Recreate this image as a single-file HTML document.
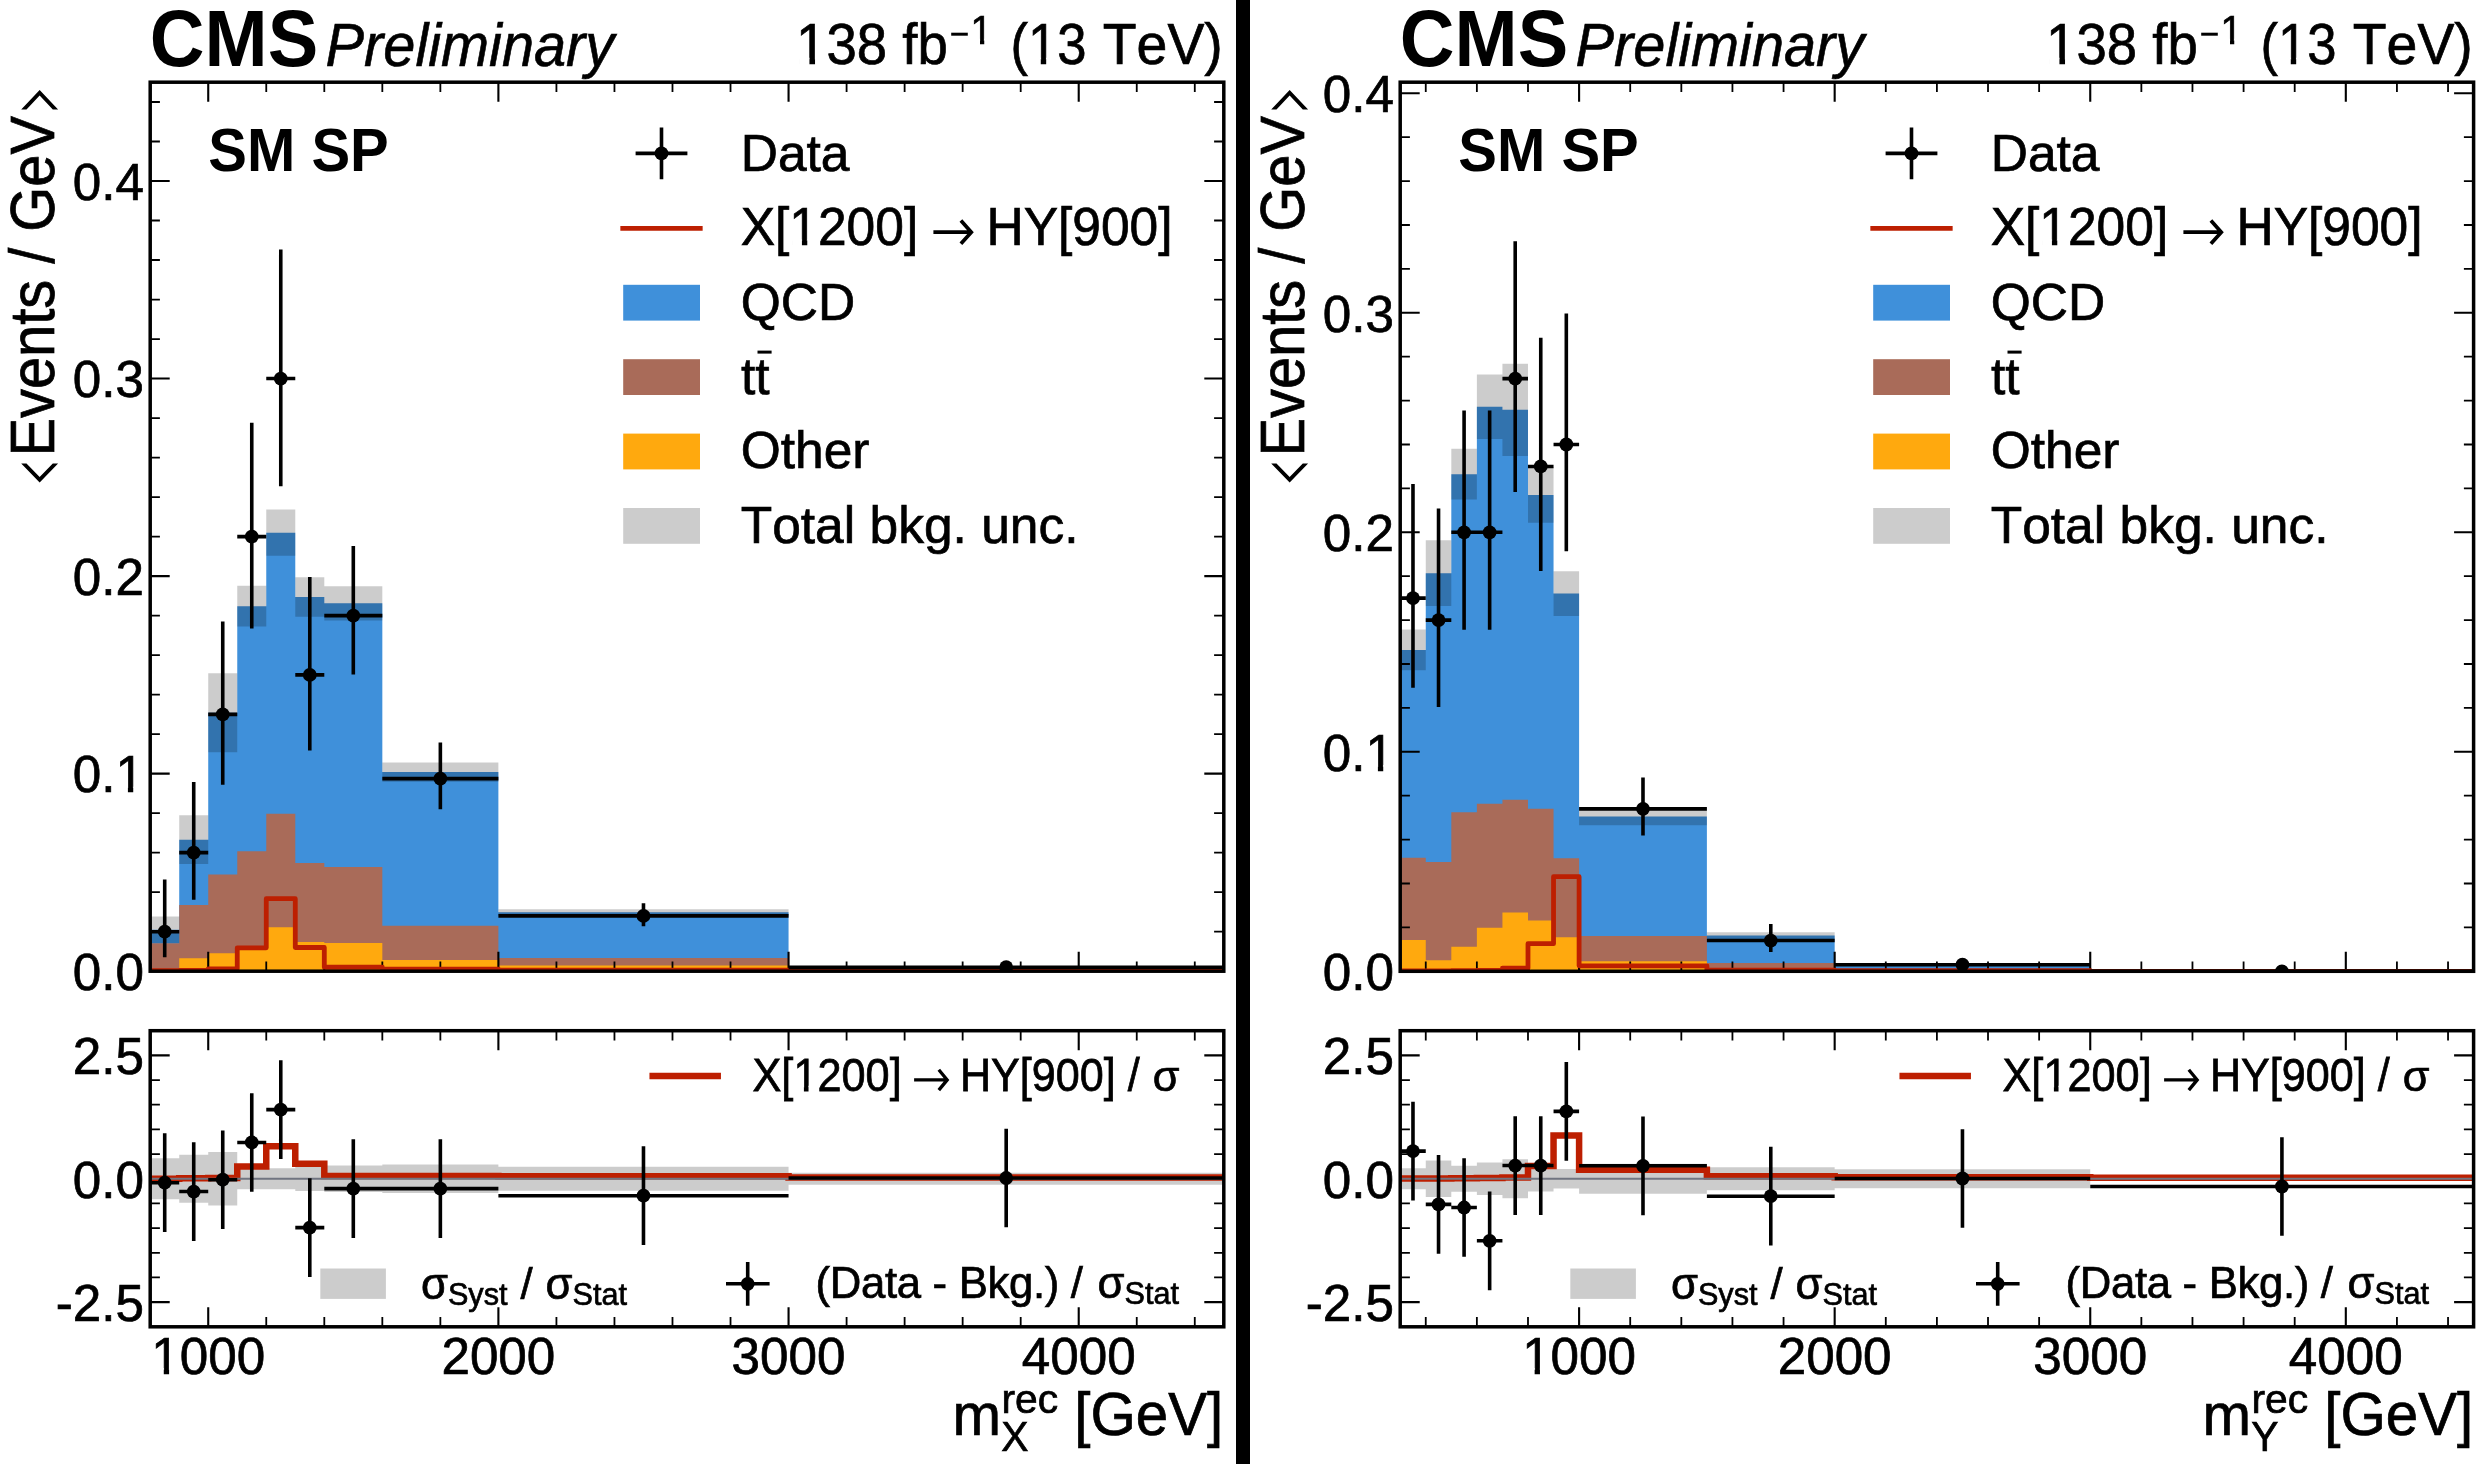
<!DOCTYPE html>
<html><head><meta charset="utf-8"><title>plot</title>
<style>html,body{margin:0;padding:0;background:#fff;overflow:hidden}svg{display:block;will-change:transform}text{font-family:"Liberation Sans",sans-serif;fill:#000;stroke:#000;stroke-width:0.7px;font-kerning:none}.b{stroke-width:0}</style>
</head><body>
<svg width="2486" height="1464" viewBox="0 0 2486 1464">
<rect width="2486" height="1464" fill="#fff"/>
<clipPath id="cma"><rect x="150.2" y="82.2" width="1073.6" height="889"/></clipPath>
<clipPath id="cra"><rect x="150.2" y="1030.7" width="1073.6" height="296.1"/></clipPath>
<g clip-path="url(#cma)">
<path d="M150.2 971.2V929.71H179.22V839.63H208.23V712.8H237.25V606.13H266.26V532.64H295.28V597.04H324.3V603.36H382.33V772.07H498.39V912.33H788.56V967.25H1223.8V971.2Z" fill="#3f90da"/>
<path d="M150.2 971.2V943.35H179.22V905.02H208.23V874.4H237.25V851.29H266.26V813.75H295.28V862.94H324.3V866.89H382.33V925.76H498.39V957.96H788.56V970.41H1223.8V971.2Z" fill="#a96b59"/>
<path d="M150.2 971.2V970.61H179.22V958.36H208.23V953.22H237.25V948.48H266.26V927.15H295.28V941.96H324.3V943.01H382.33V959.94H498.39V965.47H788.56V970.8H1223.8V971.2Z" fill="#ffa90e"/>
<path d="M150.2 916.48H179.22V815.33H208.23V673.29H237.25V585.78H266.26V509.43H295.28V577.29H324.3V586.18H382.33V762.39H498.39V909.17H788.56V966.66H1223.8V967.84H788.56V915.49H498.39V781.75H382.33V620.55H324.3V616.8H295.28V555.85H266.26V626.48H237.25V752.31H208.23V863.93H179.22V942.95H150.2Z" fill="#000" fill-opacity="0.2"/>
</g>
<g clip-path="url(#cra)">
<path d="M150.2 1158.27H179.22V1154.82H208.23V1152.1H237.25V1168.14H266.26V1168.14H295.28V1166.41H324.3V1165.52H382.33V1164.44H498.39V1166.66H788.56V1172.63H1223.8V1184.87H788.56V1190.84H498.39V1193.06H382.33V1191.98H324.3V1191.09H295.28V1189.36H266.26V1189.36H237.25V1205.4H208.23V1202.68H179.22V1199.23H150.2Z" fill="#000" fill-opacity="0.2"/>
</g>
<path d="M208.23 82.2V101.7M208.23 971.2V951.7M208.23 1030.7V1050.2M208.23 1326.8V1307.3M498.39 82.2V101.7M498.39 971.2V951.7M498.39 1030.7V1050.2M498.39 1326.8V1307.3M788.56 82.2V101.7M788.56 971.2V951.7M788.56 1030.7V1050.2M788.56 1326.8V1307.3M1078.72 82.2V101.7M1078.72 971.2V951.7M1078.72 1030.7V1050.2M1078.72 1326.8V1307.3M150.2 971.2H169.7M1223.8 971.2H1204.3M150.2 773.65H169.7M1223.8 773.65H1204.3M150.2 576.1H169.7M1223.8 576.1H1204.3M150.2 378.55H169.7M1223.8 378.55H1204.3M150.2 181H169.7M1223.8 181H1204.3M150.2 1302.12H169.7M1223.8 1302.12H1204.3M150.2 1178.75H169.7M1223.8 1178.75H1204.3M150.2 1055.38H169.7M1223.8 1055.38H1204.3" stroke="#000" stroke-width="2.1" fill="none"/><path d="M150.2 82.2V91.9M150.2 971.2V961.5M150.2 1030.7V1040.4M150.2 1326.8V1317.1M266.26 82.2V91.9M266.26 971.2V961.5M266.26 1030.7V1040.4M266.26 1326.8V1317.1M324.3 82.2V91.9M324.3 971.2V961.5M324.3 1030.7V1040.4M324.3 1326.8V1317.1M382.33 82.2V91.9M382.33 971.2V961.5M382.33 1030.7V1040.4M382.33 1326.8V1317.1M440.36 82.2V91.9M440.36 971.2V961.5M440.36 1030.7V1040.4M440.36 1326.8V1317.1M556.43 82.2V91.9M556.43 971.2V961.5M556.43 1030.7V1040.4M556.43 1326.8V1317.1M614.46 82.2V91.9M614.46 971.2V961.5M614.46 1030.7V1040.4M614.46 1326.8V1317.1M672.49 82.2V91.9M672.49 971.2V961.5M672.49 1030.7V1040.4M672.49 1326.8V1317.1M730.52 82.2V91.9M730.52 971.2V961.5M730.52 1030.7V1040.4M730.52 1326.8V1317.1M846.59 82.2V91.9M846.59 971.2V961.5M846.59 1030.7V1040.4M846.59 1326.8V1317.1M904.62 82.2V91.9M904.62 971.2V961.5M904.62 1030.7V1040.4M904.62 1326.8V1317.1M962.65 82.2V91.9M962.65 971.2V961.5M962.65 1030.7V1040.4M962.65 1326.8V1317.1M1020.69 82.2V91.9M1020.69 971.2V961.5M1020.69 1030.7V1040.4M1020.69 1326.8V1317.1M1136.75 82.2V91.9M1136.75 971.2V961.5M1136.75 1030.7V1040.4M1136.75 1326.8V1317.1M1194.78 82.2V91.9M1194.78 971.2V961.5M1194.78 1030.7V1040.4M1194.78 1326.8V1317.1M150.2 931.69H159.9M1223.8 931.69H1214.1M150.2 892.18H159.9M1223.8 892.18H1214.1M150.2 852.67H159.9M1223.8 852.67H1214.1M150.2 813.16H159.9M1223.8 813.16H1214.1M150.2 734.14H159.9M1223.8 734.14H1214.1M150.2 694.63H159.9M1223.8 694.63H1214.1M150.2 655.12H159.9M1223.8 655.12H1214.1M150.2 615.61H159.9M1223.8 615.61H1214.1M150.2 536.59H159.9M1223.8 536.59H1214.1M150.2 497.08H159.9M1223.8 497.08H1214.1M150.2 457.57H159.9M1223.8 457.57H1214.1M150.2 418.06H159.9M1223.8 418.06H1214.1M150.2 339.04H159.9M1223.8 339.04H1214.1M150.2 299.53H159.9M1223.8 299.53H1214.1M150.2 260.02H159.9M1223.8 260.02H1214.1M150.2 220.51H159.9M1223.8 220.51H1214.1M150.2 141.49H159.9M1223.8 141.49H1214.1M150.2 101.98H159.9M1223.8 101.98H1214.1M150.2 1326.8H159.9M1223.8 1326.8H1214.1M150.2 1277.45H159.9M1223.8 1277.45H1214.1M150.2 1252.78H159.9M1223.8 1252.78H1214.1M150.2 1228.1H159.9M1223.8 1228.1H1214.1M150.2 1203.42H159.9M1223.8 1203.42H1214.1M150.2 1154.08H159.9M1223.8 1154.08H1214.1M150.2 1129.4H159.9M1223.8 1129.4H1214.1M150.2 1104.72H159.9M1223.8 1104.72H1214.1M150.2 1080.05H159.9M1223.8 1080.05H1214.1M150.2 1030.7H159.9M1223.8 1030.7H1214.1" stroke="#000" stroke-width="1.8" fill="none"/>
<g clip-path="url(#cma)">
<path d="M150.2 970.61H179.22V970.41H208.23V968.83H237.25V947.81H266.26V898.7H295.28V947.49H324.3V967.25H382.33V969.03H498.39V970.21H788.56V970.8H1223.8" fill="none" stroke="#bd1f01" stroke-width="4.8" stroke-linejoin="round" stroke-linecap="square"/>
<path d="M150.2 931.69H179.22M164.71 879.58V957.21M179.22 852.67H208.23M193.72 781.88V899.69M208.23 714.38H237.25M222.74 621.58V784.69M237.25 536.59H266.26M251.76 422.77V628.54M266.26 378.55H295.28M280.77 249.39V486.15M295.28 674.88H324.3M309.79 576.92V750.52M324.3 615.61H382.33M353.31 545.92V674.6M382.33 778.59H498.39M440.36 742.54V809.3M498.39 915.89H788.56M643.48 903.33V926.28M788.56 967.25H1223.8M1006.18 963.41V969.4" stroke="#000" stroke-width="3.6" fill="none"/>
<circle cx="164.71" cy="931.69" r="6.9"/><circle cx="193.72" cy="852.67" r="6.9"/><circle cx="222.74" cy="714.38" r="6.9"/><circle cx="251.76" cy="536.59" r="6.9"/><circle cx="280.77" cy="378.55" r="6.9"/><circle cx="309.79" cy="674.88" r="6.9"/><circle cx="353.31" cy="615.61" r="6.9"/><circle cx="440.36" cy="778.59" r="6.9"/><circle cx="643.48" cy="915.89" r="6.9"/><circle cx="1006.18" cy="967.25" r="6.9"/>
</g>
<g clip-path="url(#cra)">
<path d="M150.2 1178.65H179.22V1178.26H208.23V1177.96H237.25V1166.51H266.26V1146.23H295.28V1163.8H324.3V1175.89H382.33V1175.89H498.39V1176.28H788.56V1177.52H1223.8" fill="none" stroke="#bd1f01" stroke-width="6.5" stroke-linejoin="miter" stroke-linecap="square"/>
<path d="M150.2 1178.75H1223.8" stroke="#717581" stroke-width="2.2"/>
<path d="M150.2 1182.7H179.22M164.71 1133.35V1232.05M179.22 1191.53H208.23M193.72 1142.18V1240.88M208.23 1179.74H237.25M222.74 1130.39V1229.09M237.25 1142.48H266.26M251.76 1093.13V1191.83M266.26 1109.66H295.28M280.77 1060.31V1159.01M295.28 1227.61H324.3M309.79 1178.26V1276.96M324.3 1188.62H382.33M353.31 1139.27V1237.97M382.33 1188.62H498.39M440.36 1139.27V1237.97M498.39 1195.68H788.56M643.48 1146.33V1245.03M788.56 1178.01H1223.8M1006.18 1128.66V1227.36" stroke="#000" stroke-width="3.6" fill="none"/>
<circle cx="164.71" cy="1182.7" r="6.9"/><circle cx="193.72" cy="1191.53" r="6.9"/><circle cx="222.74" cy="1179.74" r="6.9"/><circle cx="251.76" cy="1142.48" r="6.9"/><circle cx="280.77" cy="1109.66" r="6.9"/><circle cx="309.79" cy="1227.61" r="6.9"/><circle cx="353.31" cy="1188.62" r="6.9"/><circle cx="440.36" cy="1188.62" r="6.9"/><circle cx="643.48" cy="1195.68" r="6.9"/><circle cx="1006.18" cy="1178.01" r="6.9"/>
</g>
<rect x="150.2" y="82.2" width="1073.6" height="889" fill="none" stroke="#000" stroke-width="3.5"/>
<rect x="150.2" y="1030.7" width="1073.6" height="296.1" fill="none" stroke="#000" stroke-width="3.5"/>
<text x="143.9" y="990" font-size="51.2" text-anchor="end">0.0</text>
<text x="143.9" y="792.45" font-size="51.2" text-anchor="end">0.1</text>
<path d="M118.12 786.83H127.91V793.95H118.12ZM133.23 786.83H142.59V793.95H133.23Z" fill="#fff"/>
<text x="143.9" y="594.9" font-size="51.2" text-anchor="end">0.2</text>
<text x="143.9" y="397.35" font-size="51.2" text-anchor="end">0.3</text>
<text x="143.9" y="199.8" font-size="51.2" text-anchor="end">0.4</text>
<text x="143.9" y="1074.17" font-size="51.2" text-anchor="end">2.5</text>
<text x="143.9" y="1197.55" font-size="51.2" text-anchor="end">0.0</text>
<text x="143.9" y="1320.92" font-size="51.2" text-anchor="end">-2.5</text>
<text x="208.23" y="1373.7" font-size="51.2" text-anchor="middle">1000</text>
<path d="M153.99 1368.08H163.77V1375.2H153.99ZM169.1 1368.08H178.46V1375.2H169.1Z" fill="#fff"/>
<text x="498.39" y="1373.7" font-size="51.2" text-anchor="middle">2000</text>
<text x="788.56" y="1373.7" font-size="51.2" text-anchor="middle">3000</text>
<text x="1078.72" y="1373.7" font-size="51.2" text-anchor="middle">4000</text>
<text transform="translate(149.8,66.4) scale(1,1.045)" font-size="75.8" font-weight="bold" class="b">CMS</text>
<text transform="translate(325.6,66.2) scale(0.99,1.055)" font-size="58.3" font-style="italic" style="stroke-width:0.6px">Preliminary</text>
<g transform="translate(947.8,0) scale(0.985,1) translate(-947.8,0)">
<text transform="translate(947.8,63.8) scale(1,1.025)" font-size="55.4" text-anchor="end">138 fb</text>
<path d="M796.8 57.76H807.32V65.3H796.8ZM813.01 57.76H823.08V65.3H813.01Z" fill="#fff"/>
</g>
<path d="M951.2 34.2H967.8" stroke="#000" stroke-width="3"/>
<text transform="translate(970.6,43.5) scale(1,1.02)" font-size="39" >1</text>
<path d="M972.36 38.73H980.01V45H972.36ZM984.25 38.73H991.57V45H984.25Z" fill="#fff"/>
<g transform="translate(1010.4,0) scale(0.95,1) translate(-1010.4,0)">
<text transform="translate(1010.4,63.8) scale(1,1.025)" font-size="55.4">(13</text>
<path d="M1031.86 57.76H1042.38V65.3H1031.86ZM1048.07 57.76H1058.14V65.3H1048.07Z" fill="#fff"/>
</g>
<text transform="translate(1102.75,63.8) scale(1,1.025)" font-size="55.4">TeV)</text>
<text transform="translate(208.3,171) scale(1,1.066)" font-size="58" font-weight="bold" class="b">SM SP</text>
<g transform="translate(54.3,116) rotate(-90) scale(1,1.08)"><text x="0" y="0" font-size="57.8" text-anchor="end">Events / GeV</text></g>
<polygon points="21.2,109.4 39.65,90 58.1,109.4 52.8,109.4 39.65,95.6 26.5,109.4"/>
<polygon points="21.2,463.4 39.65,482.6 58.1,463.4 52.8,463.4 39.65,477 26.5,463.4"/>
<text transform="translate(952.5,1434.9) scale(1,1.001)" font-size="58.3">m</text>
<text transform="translate(1001.5,1412.6) scale(1,1.001)" font-size="40.8">rec</text>
<text transform="translate(1001.3,1450.6) scale(1,1.055)" font-size="40.8">X</text>
<text transform="translate(1223.2,1434.9) scale(1,1.034)" font-size="58.3" text-anchor="end">[GeV]</text>
<path d="M635.6 153.4H687.4M661.5 127.6V179.2" stroke="#000" stroke-width="3.6"/>
<circle cx="661.5" cy="153.4" r="6.9"/>
<path d="M622.8 228.4H700.2" stroke="#bd1f01" stroke-width="4.9" stroke-linecap="square"/>
<rect x="623.2" y="284.8" width="76.8" height="35.8" fill="#3f90da" fill-opacity="1"/>
<rect x="623.2" y="359.2" width="76.8" height="35.8" fill="#a96b59" fill-opacity="1"/>
<rect x="623.2" y="433.6" width="76.8" height="35.8" fill="#ffa90e" fill-opacity="1"/>
<rect x="623.2" y="508" width="76.8" height="35.8" fill="#000" fill-opacity="0.2"/>
<text x="740.7" y="170.8" font-size="51.5">Data</text>
<text transform="translate(740.7,245.2) scale(1,1.03)" font-size="51.5">X[1200]</text>
<path d="M792.08 239.44H801.92V246.7H792.08ZM807.27 239.44H816.68V246.7H807.27Z" fill="#fff"/>
<path d="M933.4 232.2H970.5M960.9 220.6L971.3 232.2L960.9 243.8" fill="none" stroke="#000" stroke-width="3.7"/>
<text transform="translate(986.5,245.2) scale(1,1.03)" font-size="51.5">HY[900]</text>
<text x="740.7" y="319.6" font-size="51.5">QCD</text>
<text x="741" y="394" font-size="51.5">tt</text>
<path d="M757.5 352.1H771.6" stroke="#000" stroke-width="3"/>
<text x="740.7" y="468.4" font-size="51.5">Other</text>
<text x="740.7" y="542.8" font-size="51.5">Total bkg. unc.</text>
<path d="M652.7 1076.1H717.7" stroke="#bd1f01" stroke-width="6.5" stroke-linecap="square"/>
<text transform="translate(752.5,1091.1) scale(1,1.075)" font-size="43.3">X[1200]</text>
<path d="M795.51 1085.82H803.91V1092.6H795.51ZM808.53 1085.82H816.57V1092.6H808.53Z" fill="#fff"/>
<path d="M914.1 1079.9H946.5M938.8 1069.7L947.2 1079.9L938.8 1090.1" fill="none" stroke="#000" stroke-width="3.3"/>
<text transform="translate(960,1091.1) scale(1,1.075)" font-size="43.1">HY[900] /</text>
<text x="1152.8" y="1091.1" font-size="43.3">σ</text>
<rect x="320.3" y="1268.5" width="65.6" height="30.4" fill="#000" fill-opacity="0.2"/>
<text x="421" y="1298.9" font-size="43.7">σ<tspan font-size="30.6" dy="5.8">Syst</tspan></text>
<text x="520.5" y="1298.9" font-size="43.7">/</text>
<text x="545.6" y="1298.9" font-size="43.7">σ<tspan font-size="30.6" dy="5.8">Stat</tspan></text>
<path d="M726 1283.8H769.6M747.7 1262V1305.7" stroke="#000" stroke-width="3.6"/>
<circle cx="747.7" cy="1283.8" r="6.9"/>
<text x="815.5" y="1298.4" font-size="43.7" textLength="267.5" lengthAdjust="spacing">(Data - Bkg.) /</text>
<text x="1097.6" y="1298.4" font-size="43.7">σ<tspan font-size="30.6" dy="5.8">Stat</tspan></text>
<clipPath id="cmb"><rect x="1400.2" y="82.2" width="1073.4" height="889.1"/></clipPath>
<clipPath id="crb"><rect x="1400.2" y="1030.7" width="1073.4" height="296.1"/></clipPath>
<g clip-path="url(#cmb)">
<path d="M1400.2 971.3V649.95H1425.76V573.13H1451.31V474.13H1476.87V406.75H1502.43V409.82H1527.99V494.98H1553.54V593.54H1579.1V816.55H1706.89V935.61H1834.67V964.71H2090.24V970.86H2473.6V971.3Z" fill="#3f90da"/>
<path d="M1400.2 971.3V857.82H1425.76V861.99H1451.31V812.16H1476.87V803.82H1502.43V799.87H1527.99V808.87H1553.54V858.26H1579.1V935.96H1706.89V962.96H1834.67V969.98H2090.24V971.08H2473.6V971.3Z" fill="#a96b59"/>
<path d="M1400.2 971.3V939.91H1425.76V960.32H1451.31V946.72H1476.87V927.84H1502.43V912.47H1527.99V920.38H1553.54V937.28H1579.1V961.2H1706.89V969.98H1834.67V970.64H2090.24V971.3H2473.6V971.3Z" fill="#ffa90e"/>
<path d="M1400.2 629.54H1425.76V540.2H1451.31V448.67H1476.87V374.48H1502.43V363.72H1527.99V467.11H1553.54V571.15H1579.1V807.77H1706.89V932.32H1834.67V963.4H2090.24V970.64H2473.6V971.08H2090.24V966.03H1834.67V938.9H1706.89V825.33H1579.1V615.93H1553.54V522.86H1527.99V455.91H1502.43V439.01H1476.87V499.59H1451.31V606.05H1425.76V670.37H1400.2Z" fill="#000" fill-opacity="0.2"/>
</g>
<g clip-path="url(#crb)">
<path d="M1400.2 1168.14H1425.76V1160.49H1451.31V1165.67H1476.87V1162.46H1502.43V1159.21H1527.99V1165.92H1553.54V1168.88H1579.1V1163.7H1706.89V1167.25H1834.67V1169.37H2090.24V1178.75H2473.6V1178.75H2090.24V1188.13H1834.67V1190.25H1706.89V1193.8H1579.1V1188.62H1553.54V1191.58H1527.99V1198.29H1502.43V1195.04H1476.87V1191.83H1451.31V1197.01H1425.76V1189.36H1400.2Z" fill="#000" fill-opacity="0.2"/>
</g>
<path d="M1579.1 82.2V101.7M1579.1 971.3V951.8M1579.1 1030.7V1050.2M1579.1 1326.8V1307.3M1834.67 82.2V101.7M1834.67 971.3V951.8M1834.67 1030.7V1050.2M1834.67 1326.8V1307.3M2090.24 82.2V101.7M2090.24 971.3V951.8M2090.24 1030.7V1050.2M2090.24 1326.8V1307.3M2345.81 82.2V101.7M2345.81 971.3V951.8M2345.81 1030.7V1050.2M2345.81 1326.8V1307.3M1400.2 971.3H1419.7M2473.6 971.3H2454.1M1400.2 751.8H1419.7M2473.6 751.8H2454.1M1400.2 532.3H1419.7M2473.6 532.3H2454.1M1400.2 312.8H1419.7M2473.6 312.8H2454.1M1400.2 93.3H1419.7M2473.6 93.3H2454.1M1400.2 1302.12H1419.7M2473.6 1302.12H2454.1M1400.2 1178.75H1419.7M2473.6 1178.75H2454.1M1400.2 1055.38H1419.7M2473.6 1055.38H2454.1" stroke="#000" stroke-width="2.1" fill="none"/><path d="M1425.76 82.2V91.9M1425.76 971.3V961.6M1425.76 1030.7V1040.4M1425.76 1326.8V1317.1M1476.87 82.2V91.9M1476.87 971.3V961.6M1476.87 1030.7V1040.4M1476.87 1326.8V1317.1M1527.99 82.2V91.9M1527.99 971.3V961.6M1527.99 1030.7V1040.4M1527.99 1326.8V1317.1M1630.21 82.2V91.9M1630.21 971.3V961.6M1630.21 1030.7V1040.4M1630.21 1326.8V1317.1M1681.33 82.2V91.9M1681.33 971.3V961.6M1681.33 1030.7V1040.4M1681.33 1326.8V1317.1M1732.44 82.2V91.9M1732.44 971.3V961.6M1732.44 1030.7V1040.4M1732.44 1326.8V1317.1M1783.56 82.2V91.9M1783.56 971.3V961.6M1783.56 1030.7V1040.4M1783.56 1326.8V1317.1M1885.79 82.2V91.9M1885.79 971.3V961.6M1885.79 1030.7V1040.4M1885.79 1326.8V1317.1M1936.9 82.2V91.9M1936.9 971.3V961.6M1936.9 1030.7V1040.4M1936.9 1326.8V1317.1M1988.01 82.2V91.9M1988.01 971.3V961.6M1988.01 1030.7V1040.4M1988.01 1326.8V1317.1M2039.13 82.2V91.9M2039.13 971.3V961.6M2039.13 1030.7V1040.4M2039.13 1326.8V1317.1M2141.36 82.2V91.9M2141.36 971.3V961.6M2141.36 1030.7V1040.4M2141.36 1326.8V1317.1M2192.47 82.2V91.9M2192.47 971.3V961.6M2192.47 1030.7V1040.4M2192.47 1326.8V1317.1M2243.59 82.2V91.9M2243.59 971.3V961.6M2243.59 1030.7V1040.4M2243.59 1326.8V1317.1M2294.7 82.2V91.9M2294.7 971.3V961.6M2294.7 1030.7V1040.4M2294.7 1326.8V1317.1M2396.93 82.2V91.9M2396.93 971.3V961.6M2396.93 1030.7V1040.4M2396.93 1326.8V1317.1M2448.04 82.2V91.9M2448.04 971.3V961.6M2448.04 1030.7V1040.4M2448.04 1326.8V1317.1M1400.2 927.4H1409.9M2473.6 927.4H2463.9M1400.2 883.5H1409.9M2473.6 883.5H2463.9M1400.2 839.6H1409.9M2473.6 839.6H2463.9M1400.2 795.7H1409.9M2473.6 795.7H2463.9M1400.2 707.9H1409.9M2473.6 707.9H2463.9M1400.2 664H1409.9M2473.6 664H2463.9M1400.2 620.1H1409.9M2473.6 620.1H2463.9M1400.2 576.2H1409.9M2473.6 576.2H2463.9M1400.2 488.4H1409.9M2473.6 488.4H2463.9M1400.2 444.5H1409.9M2473.6 444.5H2463.9M1400.2 400.6H1409.9M2473.6 400.6H2463.9M1400.2 356.7H1409.9M2473.6 356.7H2463.9M1400.2 268.9H1409.9M2473.6 268.9H2463.9M1400.2 225H1409.9M2473.6 225H2463.9M1400.2 181.1H1409.9M2473.6 181.1H2463.9M1400.2 137.2H1409.9M2473.6 137.2H2463.9M1400.2 1326.8H1409.9M2473.6 1326.8H2463.9M1400.2 1277.45H1409.9M2473.6 1277.45H2463.9M1400.2 1252.78H1409.9M2473.6 1252.78H2463.9M1400.2 1228.1H1409.9M2473.6 1228.1H2463.9M1400.2 1203.42H1409.9M2473.6 1203.42H2463.9M1400.2 1154.08H1409.9M2473.6 1154.08H2463.9M1400.2 1129.4H1409.9M2473.6 1129.4H2463.9M1400.2 1104.72H1409.9M2473.6 1104.72H2463.9M1400.2 1080.05H1409.9M2473.6 1080.05H2463.9M1400.2 1030.7H1409.9M2473.6 1030.7H2463.9" stroke="#000" stroke-width="1.8" fill="none"/>
<g clip-path="url(#cmb)">
<path d="M1400.2 970.86H1425.76V970.86H1451.31V970.64H1476.87V970.42H1502.43V968.23H1527.99V943.64H1553.54V876.7H1579.1V965.81H1706.89V970.2H1834.67V970.64H2090.24V971.3H2473.6" fill="none" stroke="#bd1f01" stroke-width="4.8" stroke-linejoin="round" stroke-linecap="square"/>
<path d="M1400.2 598.15H1425.76M1412.98 483.93V687.75M1425.76 620.1H1451.31M1438.54 508.53V706.97M1451.31 532.3H1476.87M1464.09 410.55V629.64M1476.87 532.3H1502.43M1489.65 410.55V629.64M1502.43 378.65H1527.99M1515.21 241.24V491.99M1527.99 466.45H1553.54M1540.76 337.71V570.95M1553.54 444.5H1579.1M1566.32 313.53V551.28M1579.1 808.87H1706.89M1642.99 777.54V835.45M1706.89 940.57H1834.67M1770.78 924.02V951.9M1834.67 964.71H2090.24M1962.46 958.31V968.3M2090.24 971.3H2473.6M2281.92 968.61V971.3" stroke="#000" stroke-width="3.6" fill="none"/>
<circle cx="1412.98" cy="598.15" r="6.9"/><circle cx="1438.54" cy="620.1" r="6.9"/><circle cx="1464.09" cy="532.3" r="6.9"/><circle cx="1489.65" cy="532.3" r="6.9"/><circle cx="1515.21" cy="378.65" r="6.9"/><circle cx="1540.76" cy="466.45" r="6.9"/><circle cx="1566.32" cy="444.5" r="6.9"/><circle cx="1642.99" cy="808.87" r="6.9"/><circle cx="1770.78" cy="940.57" r="6.9"/><circle cx="1962.46" cy="964.71" r="6.9"/><circle cx="2281.92" cy="971.3" r="6.9"/>
</g>
<g clip-path="url(#crb)">
<path d="M1400.2 1178.55H1425.76V1178.4H1451.31V1178.21H1476.87V1177.91H1502.43V1177.42H1527.99V1165.92H1553.54V1135.42H1579.1V1169.72H1706.89V1176.28H1834.67V1177.27H2090.24V1177.76H2473.6" fill="none" stroke="#bd1f01" stroke-width="6.5" stroke-linejoin="miter" stroke-linecap="square"/>
<path d="M1400.2 1178.75H2473.6" stroke="#717581" stroke-width="2.2"/>
<path d="M1400.2 1151.11H1425.76M1412.98 1101.76V1200.46M1425.76 1204.41H1451.31M1438.54 1155.06V1253.76M1451.31 1207.52H1476.87M1464.09 1158.17V1256.87M1476.87 1240.78H1502.43M1489.65 1191.43V1290.13M1502.43 1165.57H1527.99M1515.21 1116.22V1214.92M1527.99 1165.57H1553.54M1540.76 1116.22V1214.92M1553.54 1111.39H1579.1M1566.32 1062.04V1160.74M1579.1 1165.82H1706.89M1642.99 1116.47V1215.17M1706.89 1196.22H1834.67M1770.78 1146.87V1245.57M1834.67 1178.5H2090.24M1962.46 1129.15V1227.85M2090.24 1186.5H2473.6M2281.92 1137.15V1235.85" stroke="#000" stroke-width="3.6" fill="none"/>
<circle cx="1412.98" cy="1151.11" r="6.9"/><circle cx="1438.54" cy="1204.41" r="6.9"/><circle cx="1464.09" cy="1207.52" r="6.9"/><circle cx="1489.65" cy="1240.78" r="6.9"/><circle cx="1515.21" cy="1165.57" r="6.9"/><circle cx="1540.76" cy="1165.57" r="6.9"/><circle cx="1566.32" cy="1111.39" r="6.9"/><circle cx="1642.99" cy="1165.82" r="6.9"/><circle cx="1770.78" cy="1196.22" r="6.9"/><circle cx="1962.46" cy="1178.5" r="6.9"/><circle cx="2281.92" cy="1186.5" r="6.9"/>
</g>
<rect x="1400.2" y="82.2" width="1073.4" height="889.1" fill="none" stroke="#000" stroke-width="3.5"/>
<rect x="1400.2" y="1030.7" width="1073.4" height="296.1" fill="none" stroke="#000" stroke-width="3.5"/>
<text x="1393.9" y="990.1" font-size="51.2" text-anchor="end">0.0</text>
<text x="1393.9" y="770.6" font-size="51.2" text-anchor="end">0.1</text>
<path d="M1368.12 764.98H1377.91V772.1H1368.12ZM1383.23 764.98H1392.59V772.1H1383.23Z" fill="#fff"/>
<text x="1393.9" y="551.1" font-size="51.2" text-anchor="end">0.2</text>
<text x="1393.9" y="331.6" font-size="51.2" text-anchor="end">0.3</text>
<text x="1393.9" y="112.1" font-size="51.2" text-anchor="end">0.4</text>
<text x="1393.9" y="1074.17" font-size="51.2" text-anchor="end">2.5</text>
<text x="1393.9" y="1197.55" font-size="51.2" text-anchor="end">0.0</text>
<text x="1393.9" y="1320.92" font-size="51.2" text-anchor="end">-2.5</text>
<text x="1579.1" y="1373.7" font-size="51.2" text-anchor="middle">1000</text>
<path d="M1524.86 1368.08H1534.64V1375.2H1524.86ZM1539.96 1368.08H1549.32V1375.2H1539.96Z" fill="#fff"/>
<text x="1834.67" y="1373.7" font-size="51.2" text-anchor="middle">2000</text>
<text x="2090.24" y="1373.7" font-size="51.2" text-anchor="middle">3000</text>
<text x="2345.81" y="1373.7" font-size="51.2" text-anchor="middle">4000</text>
<text transform="translate(1399.8,66.4) scale(1,1.045)" font-size="75.8" font-weight="bold" class="b">CMS</text>
<text transform="translate(1575.6,66.2) scale(0.99,1.055)" font-size="58.3" font-style="italic" style="stroke-width:0.6px">Preliminary</text>
<g transform="translate(2197.8,0) scale(0.985,1) translate(-2197.8,0)">
<text transform="translate(2197.8,63.8) scale(1,1.025)" font-size="55.4" text-anchor="end">138 fb</text>
<path d="M2046.8 57.76H2057.32V65.3H2046.8ZM2063.01 57.76H2073.08V65.3H2063.01Z" fill="#fff"/>
</g>
<path d="M2201.2 34.2H2217.8" stroke="#000" stroke-width="3"/>
<text transform="translate(2220.6,43.5) scale(1,1.02)" font-size="39" >1</text>
<path d="M2222.36 38.73H2230.01V45H2222.36ZM2234.25 38.73H2241.57V45H2234.25Z" fill="#fff"/>
<g transform="translate(2260.4,0) scale(0.95,1) translate(-2260.4,0)">
<text transform="translate(2260.4,63.8) scale(1,1.025)" font-size="55.4">(13</text>
<path d="M2281.86 57.76H2292.38V65.3H2281.86ZM2298.07 57.76H2308.14V65.3H2298.07Z" fill="#fff"/>
</g>
<text transform="translate(2352.75,63.8) scale(1,1.025)" font-size="55.4">TeV)</text>
<text transform="translate(1458.3,171) scale(1,1.066)" font-size="58" font-weight="bold" class="b">SM SP</text>
<g transform="translate(1304.3,116) rotate(-90) scale(1,1.08)"><text x="0" y="0" font-size="57.8" text-anchor="end">Events / GeV</text></g>
<polygon points="1271.2,109.4 1289.65,90 1308.1,109.4 1302.8,109.4 1289.65,95.6 1276.5,109.4"/>
<polygon points="1271.2,463.4 1289.65,482.6 1308.1,463.4 1302.8,463.4 1289.65,477 1276.5,463.4"/>
<text transform="translate(2202.5,1434.9) scale(1,1.001)" font-size="58.3">m</text>
<text transform="translate(2251.5,1412.6) scale(1,1.001)" font-size="40.8">rec</text>
<text transform="translate(2251.3,1450.6) scale(1,1.055)" font-size="40.8">Y</text>
<text transform="translate(2473.2,1434.9) scale(1,1.034)" font-size="58.3" text-anchor="end">[GeV]</text>
<path d="M1885.6 153.4H1937.4M1911.5 127.6V179.2" stroke="#000" stroke-width="3.6"/>
<circle cx="1911.5" cy="153.4" r="6.9"/>
<path d="M1872.8 228.4H1950.2" stroke="#bd1f01" stroke-width="4.9" stroke-linecap="square"/>
<rect x="1873.2" y="284.8" width="76.8" height="35.8" fill="#3f90da" fill-opacity="1"/>
<rect x="1873.2" y="359.2" width="76.8" height="35.8" fill="#a96b59" fill-opacity="1"/>
<rect x="1873.2" y="433.6" width="76.8" height="35.8" fill="#ffa90e" fill-opacity="1"/>
<rect x="1873.2" y="508" width="76.8" height="35.8" fill="#000" fill-opacity="0.2"/>
<text x="1990.7" y="170.8" font-size="51.5">Data</text>
<text transform="translate(1990.7,245.2) scale(1,1.03)" font-size="51.5">X[1200]</text>
<path d="M2042.08 239.44H2051.92V246.7H2042.08ZM2057.27 239.44H2066.68V246.7H2057.27Z" fill="#fff"/>
<path d="M2183.4 232.2H2220.5M2210.9 220.6L2221.3 232.2L2210.9 243.8" fill="none" stroke="#000" stroke-width="3.7"/>
<text transform="translate(2236.5,245.2) scale(1,1.03)" font-size="51.5">HY[900]</text>
<text x="1990.7" y="319.6" font-size="51.5">QCD</text>
<text x="1991" y="394" font-size="51.5">tt</text>
<path d="M2007.5 352.1H2021.6" stroke="#000" stroke-width="3"/>
<text x="1990.7" y="468.4" font-size="51.5">Other</text>
<text x="1990.7" y="542.8" font-size="51.5">Total bkg. unc.</text>
<path d="M1902.7 1076.1H1967.7" stroke="#bd1f01" stroke-width="6.5" stroke-linecap="square"/>
<text transform="translate(2002.5,1091.1) scale(1,1.075)" font-size="43.3">X[1200]</text>
<path d="M2045.51 1085.82H2053.91V1092.6H2045.51ZM2058.53 1085.82H2066.57V1092.6H2058.53Z" fill="#fff"/>
<path d="M2164.1 1079.9H2196.5M2188.8 1069.7L2197.2 1079.9L2188.8 1090.1" fill="none" stroke="#000" stroke-width="3.3"/>
<text transform="translate(2210,1091.1) scale(1,1.075)" font-size="43.1">HY[900] /</text>
<text x="2402.8" y="1091.1" font-size="43.3">σ</text>
<rect x="1570.3" y="1268.5" width="65.6" height="30.4" fill="#000" fill-opacity="0.2"/>
<text x="1671" y="1298.9" font-size="43.7">σ<tspan font-size="30.6" dy="5.8">Syst</tspan></text>
<text x="1770.5" y="1298.9" font-size="43.7">/</text>
<text x="1795.6" y="1298.9" font-size="43.7">σ<tspan font-size="30.6" dy="5.8">Stat</tspan></text>
<path d="M1976 1283.8H2019.6M1997.7 1262V1305.7" stroke="#000" stroke-width="3.6"/>
<circle cx="1997.7" cy="1283.8" r="6.9"/>
<text x="2065.5" y="1298.4" font-size="43.7" textLength="267.5" lengthAdjust="spacing">(Data - Bkg.) /</text>
<text x="2347.6" y="1298.4" font-size="43.7">σ<tspan font-size="30.6" dy="5.8">Stat</tspan></text>
<rect x="1236" y="0" width="14" height="1464" fill="#000"/>
</svg></body></html>
